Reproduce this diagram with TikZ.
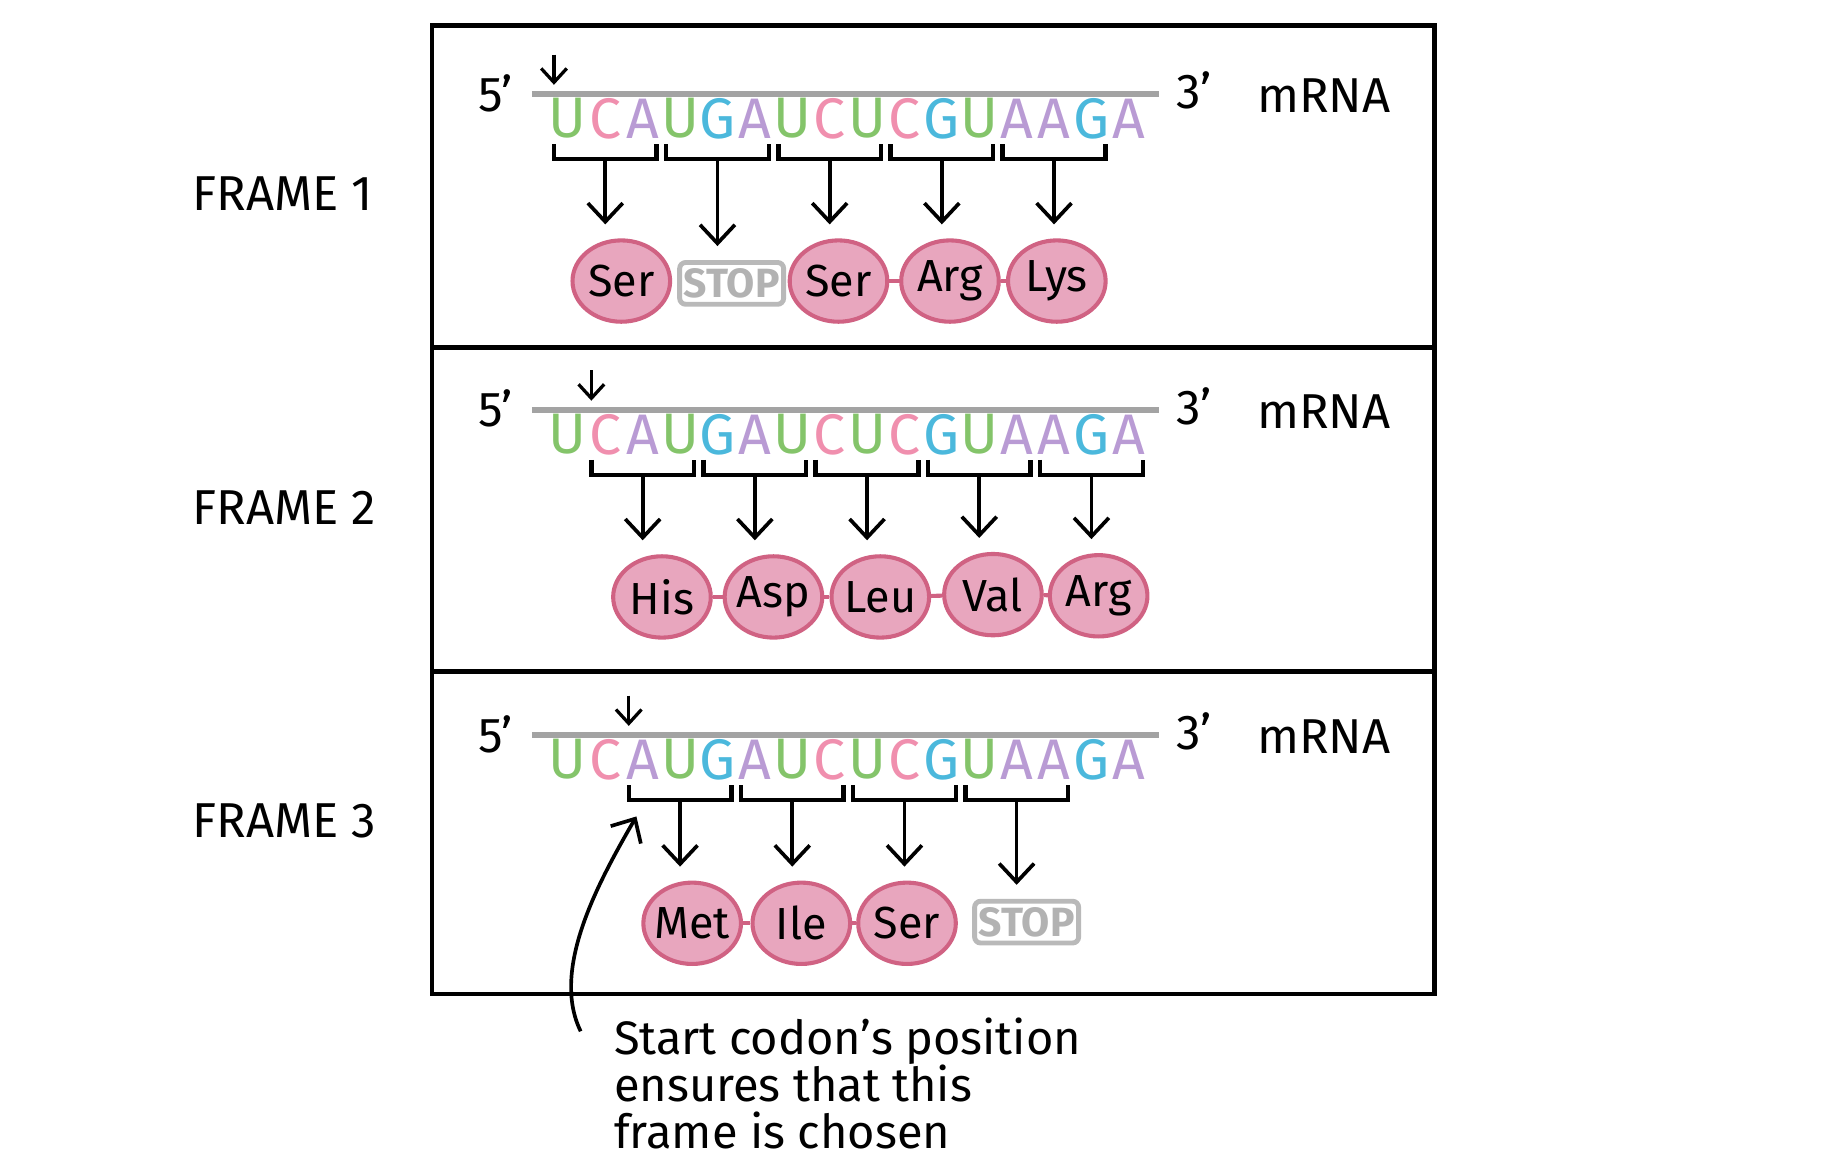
\documentclass[tikz,border=0pt]{standalone}
\usepackage{fontspec}
\setmainfont{Fira Sans}
\usepackage{tikz}
\usetikzlibrary{shapes.geometric,arrows.meta,calc}
\definecolor{colU}{HTML}{84C46A}
\definecolor{colC}{HTML}{F08FAE}
\definecolor{colA}{HTML}{B99BD4}
\definecolor{colG}{HTML}{4BB8DC}
\definecolor{aafill}{HTML}{E8A6BE}
\definecolor{aaline}{HTML}{D06283}
\definecolor{rnagray}{HTML}{A3A3A3}
\tikzset{
    txt/.style={inner sep=0pt,font=\fontsize{12}{14}\selectfont},
    base/.style={inner sep=0pt,font=\fontsize{14}{14}\selectfont},
    aa/.style={ellipse,draw=aaline,fill=aafill,line width=1pt,minimum width=0.84cm,minimum height=0.70cm,inner xsep=-3pt,inner ysep=-1pt,font=\fontsize{11}{13}\selectfont},
    stopbox/.style={draw=gray!55,rounded corners=1.5pt,line width=1.2pt,text=gray!60,minimum width=0.84cm,minimum height=0.36cm,inner sep=1pt,font=\fontsize{10}{12}\selectfont\bfseries},
    bond/.style={draw=aaline,line width=1pt},
    brk/.style={line width=1.1pt},
    arr/.style={line width=0.9pt,-{Straight Barb[length=1.6mm,width=3mm]}},
    startarr/.style={line width=0.8pt,-{Straight Barb[length=1.2mm,width=2.2mm]}},
}

\begin{document}
\begin{tikzpicture}[x=0.01cm,y=-0.01cm]
    \useasboundingbox (0,0) rectangle (1568,1008);

    % frame boxes
    \draw[line width=1.1pt] (372,22) rectangle (1235,856);
    \draw[line width=1.1pt] (372,299) -- (1235,299);
    \draw[line width=1.1pt] (372,578) -- (1235,578);

    \node[txt,anchor=west] (f1) at (165,167) {FRAME 1};
    \node[txt,anchor=west] (f2) at (165,437) {FRAME 2};
    \node[txt,anchor=west] (f3) at (165,707) {FRAME 3};

    % mRNA strand, start marker and codon brackets
    \foreach \p/\dy/\s/\n in {1/0/0/5,2/272/1/5,3/552/2/4}{
        \coordinate (s\p) at (458,81+\dy);
        \coordinate (e\p) at (998,81+\dy);
        \draw[rnagray,line width=1.3pt] (s\p) -- (e\p);
        \node[txt] (five\p) at (427,80+\dy) {5'};
        \node[txt] (three\p) at (1028,78+\dy) {3'};
        \node[txt] (mrna\p) at (1140,82+\dy) {mRNA};
        \foreach \b [count=\i from 0] in {U,C,A,U,G,A,U,C,U,C,G,U,A,A,G,A}
            \node[base,text=col\b] (l\p-\i) at ({489+32.2*\i},{102+\dy}) {\b};
        \coordinate (m\p) at ({477+32.2*\s},{47+\dy});
        \draw[startarr] (m\p) -- ++(0,26);
        \foreach \k in {1,...,\n}{
            \pgfmathtruncatemacro{\a}{\s+3*(\k-1)}
            \draw[brk] ({489+32.2*\a-12},{124+\dy}) -- ++(0,13) -- ({489+32.2*(\a+2)+12},{137+\dy}) -- ++(0,-13);
            \coordinate (c\p-\k) at ({489+32.2*(\a+1)},{137+\dy});
        }
    }

    % frame 1
    \node[aa] (a1-1) at (535,242) {Ser};
    \node[stopbox] (a1-2) at (630,244) {STOP};
    \node[aa] (a1-3) at (722,242) {Ser};
    \node[aa] (a1-4) at (818,242) {Arg};
    \node[aa] (a1-5) at (910,242) {Lys};
    \draw[bond] (a1-3) -- (a1-4);
    \draw[bond] (a1-4) -- (a1-5);

    % frame 2
    \node[aa] (a2-1) at (570,514) {His};
    \node[aa] (a2-2) at (666,514) {Asp};
    \node[aa] (a2-3) at (758,514) {Leu};
    \node[aa] (a2-4) at (855,512) {Val};
    \node[aa] (a2-5) at (946,513) {Arg};
    \draw[bond] (a2-1) -- (a2-2);
    \draw[bond] (a2-2) -- (a2-3);
    \draw[bond] (a2-3) -- (a2-4);
    \draw[bond] (a2-4) -- (a2-5);

    % frame 3
    \node[aa] (a3-1) at (596,795) {Met};
    \node[aa] (a3-2) at (690,795) {Ile};
    \node[aa] (a3-3) at (781,795) {Ser};
    \node[stopbox] (a3-4) at (884,794) {STOP};
    \draw[bond] (a3-1) -- (a3-2);
    \draw[bond] (a3-2) -- (a3-3);

    % codon -> amino acid arrows
    \foreach \p/\n in {1/5,2/5,3/4}
        \foreach \k in {1,...,\n}
            \draw[arr,shorten >=0.12cm] (c\p-\k) -- (c\p-\k |- a\p-\k.north);

    % note
    \node[txt,anchor=base west] (note) at (528,908)
        {\parbox[t]{5cm}{\fontsize{11.5}{11.5}\selectfont\lineskiplimit=-20pt Start codon's position\\ensures that this\\frame is chosen}};
    \coordinate (tail) at (500,888);
    \coordinate (tip) at (548,703);
    \draw[arr] (tail) .. controls (474,835) and (515,760) .. (tip);
\end{tikzpicture}
\end{document}
